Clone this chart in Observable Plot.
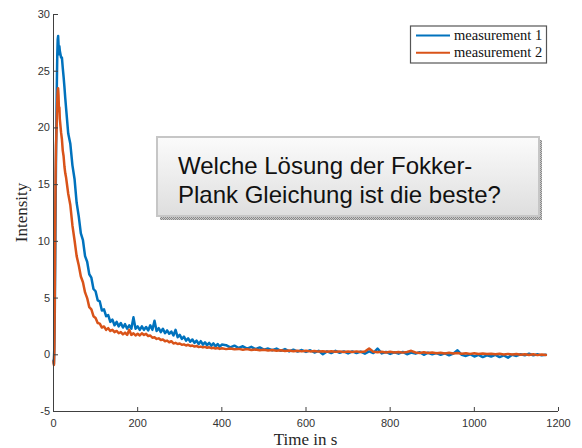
<!DOCTYPE html>
<html>
<head>
<meta charset="utf-8">
<script src="https://cdn.jsdelivr.net/npm/d3@7"></script>
<script src="https://cdn.jsdelivr.net/npm/@observablehq/plot@0.6"></script>
<style>
  html, body { margin: 0; padding: 0; background: #fff; }
  #chart { width: 582px; height: 448px; }
</style>
</head>
<body>
<div id="chart"></div>
<script>
const seriesNames = ["measurement 1", "measurement 2"];
const seriesColors = ["#0072BD", "#D95319"];
const xTicks = [0, 200, 400, 600, 800, 1000, 1200];
const yTicks = [-5, 0, 5, 10, 15, 20, 25, 30];
const xLabel = "Time in s";
const yLabel = "Intensity";
const boxText = ["Welche Lösung der Fokker-", "Plank Gleichung ist die beste?"];

const time = [0,1,2,3,4,5,6,7,8,9,10,11,12,13,14,15,16,18,20,22,24,26,28,
  30,35,40,45,50,55,60,65,70,75,80,85,90,95,100,105,110,115,120,125,130,135,140,145,150,155,160,165,170,175,
  180,185,190,195,200,205,210,215,220,225,230,235,240,245,250,255,260,265,270,275,280,285,290,295,300,305,
  310,315,320,325,330,335,340,345,350,355,360,365,370,375,380,385,390,395,400,
  410,420,430,440,450,460,470,480,490,500,510,520,530,540,550,560,570,580,590,600,
  610,620,630,640,650,660,670,680,690,700,710,720,730,740,750,760,770,780,790,800,
  810,820,830,840,850,860,870,880,890,900,910,920,930,940,950,960,970,980,990,1000,
  1010,1020,1030,1040,1050,1060,1070,1080,1090,1100,1110,1120,1130,1140,1150,1160,1170];

const measurement1 = [-0.5,-0.8,0.8,3.5,8,13,17.5,21,24,26.5,27.8,28.1,27.3,26.5,27.2,26.8,26.6,26.2,26.2,25.3,24.5,23.6,22.6,
  21.7,19.5,18.6,16.7,15.5,13.4,12.2,10.7,10.1,8.7,
  8.2,7.1,6.8,5.8,5.6,4.8,4.7,3.9,4.0,3.4,
  3.5,2.9,3.1,2.6,2.9,2.5,2.8,2.4,2.7,2.3,
  2.6,2.3,3.3,2.3,2.5,2.2,2.5,2.2,2.45,2.15,
  2.6,2.2,3.0,2.1,2.35,2.0,2.3,1.9,2.15,1.85,
  2.05,1.7,2.2,1.55,1.75,1.4,1.6,1.25,1.45,1.15,
  1.35,1.05,1.25,0.95,1.2,0.9,1.1,0.85,1.05,0.8,
  1.0,0.75,0.95,0.72,0.9,
  0.85,0.65,0.8,0.6,0.75,0.55,0.7,0.5,0.65,0.45,
  0.55,0.4,0.55,0.35,0.5,0.3,0.45,0.28,0.42,0.25,
  0.4,0.2,0.35,0.05,0.3,0.15,0.35,0.18,0.3,0.12,
  0.3,0.15,0.28,0.1,0.3,0.15,0.55,0.12,0.25,0.08,
  0.22,0.1,0.25,0.05,0.2,0.1,0.22,0.0,0.18,0.05,
  0.15,0.0,0.12,-0.05,0.1,0.4,0.0,-0.1,0.05,-0.15,
  0.0,-0.2,-0.05,-0.15,0.0,-0.2,-0.05,-0.25,0.0,-0.1,
  0.05,-0.05,0.1,-0.05,0.05,-0.05,0.0];

const measurement2 = [-0.6,-0.9,0.5,5,11,16,18.5,19.5,21,22.5,23.3,23.5,22.8,21.5,21.8,20.8,20.4,19.6,19.0,18.0,17.5,16.6,16.0,
  15.6,14.2,13.2,11.4,10.1,8.7,7.9,6.9,6.4,5.5,
  5.0,4.2,4.0,3.4,3.25,2.8,2.75,2.4,2.5,2.2,
  2.35,2.1,2.2,2.0,2.1,1.9,2.0,1.8,1.95,1.75,
  2.2,1.75,1.9,1.7,1.85,1.7,1.9,1.75,1.85,1.65,
  1.7,1.5,1.55,1.4,1.45,1.3,1.35,1.2,1.25,1.1,
  1.2,1.0,1.05,0.95,1.0,0.88,0.92,0.82,0.88,0.78,
  0.82,0.72,0.78,0.68,0.72,0.65,0.7,0.62,0.66,0.58,
  0.62,0.55,0.6,0.52,0.57,
  0.5,0.55,0.48,0.52,0.45,0.5,0.42,0.47,0.4,0.45,
  0.38,0.42,0.36,0.4,0.34,0.38,0.32,0.36,0.3,0.35,
  0.3,0.34,0.28,0.32,0.27,0.31,0.26,0.3,0.25,0.29,
  0.25,0.3,0.24,0.28,0.55,0.26,0.22,0.27,0.21,0.26,
  0.2,0.24,0.19,0.25,0.35,0.2,0.16,0.22,0.15,0.2,
  0.14,0.18,0.12,0.17,0.11,0.16,0.1,0.14,0.08,0.13,
  0.07,0.12,0.06,0.1,0.05,0.09,0.03,0.08,0.02,0.07,
  0.0,0.05,-0.02,0.04,-0.03,0.02,-0.02];

const data1 = time.map((t, i) => ({t, v: measurement1[i]}));
const data2 = time.map((t, i) => ({t, v: measurement2[i]}));

const axisColor = "#404040";
const fmt = d => String(d);
const svg = Plot.plot({
  width: 582,
  height: 448,
  marginLeft: 53,
  marginRight: 24,
  marginTop: 14,
  marginBottom: 37,
  style: {fontFamily: "'Liberation Sans', Arial, sans-serif", fontSize: "11px", color: "#333", background: "#fff", overflow: "visible"},
  x: {domain: [0, 1200], label: null},
  y: {domain: [-5, 30], label: null},
  marks: [
    Plot.line(data1, {x: "t", y: "v", stroke: seriesColors[0], strokeWidth: 2.5}),
    Plot.line(data2, {x: "t", y: "v", stroke: seriesColors[1], strokeWidth: 2.5}),
    Plot.ruleY([-5], {stroke: axisColor}),
    Plot.ruleX([0], {stroke: axisColor}),
    Plot.axisX(xTicks, {tickSize: -4, tickPadding: 12, stroke: axisColor, fill: "#333", label: null, tickFormat: fmt}),
    Plot.axisY(yTicks, {tickSize: -5, tickPadding: 8.5, stroke: axisColor, fill: "#333", label: null, tickFormat: fmt})
  ]
});
document.getElementById("chart").appendChild(svg);

const s = d3.select(svg);
const serif = "'Liberation Serif', 'Times New Roman', serif";
// axis titles
s.append("text").attr("x", 305.5).attr("y", 445).attr("text-anchor", "middle")
  .attr("font-family", serif).attr("font-size", 17).attr("fill", "#262626").text(xLabel);
s.append("text").attr("transform", "translate(26.5,212.5) rotate(-90)").attr("text-anchor", "middle")
  .attr("font-family", serif).attr("font-size", 17).attr("fill", "#262626").text(yLabel);

// legend
const lg = s.append("g");
lg.append("rect").attr("x", 410.5).attr("y", 26).attr("width", 136).attr("height", 37)
  .attr("fill", "#fff").attr("stroke", "#555").attr("stroke-width", 1.2);
seriesNames.forEach((name, i) => {
  const cy = 35.5 + i * 17.3;
  lg.append("line").attr("x1", 416).attr("x2", 450).attr("y1", cy).attr("y2", cy)
    .attr("stroke", seriesColors[i]).attr("stroke-width", 2);
  lg.append("text").attr("x", 454).attr("y", cy + 4).attr("text-anchor", "start").attr("font-family", serif)
    .attr("font-size", 14.5).attr("fill", "#111").text(name);
});

// annotation box
const defs = s.append("defs");
const grad = defs.append("linearGradient").attr("id", "boxgrad").attr("x1", 0).attr("y1", 0).attr("x2", 0).attr("y2", 1);
grad.append("stop").attr("offset", "0%").attr("stop-color", "#fbfbfb");
grad.append("stop").attr("offset", "100%").attr("stop-color", "#dedede");
const pat = defs.append("pattern").attr("id", "hatch").attr("width", 2).attr("height", 2).attr("patternUnits", "userSpaceOnUse");
pat.append("rect").attr("width", 2).attr("height", 2).attr("fill", "#c8c8c8");
pat.append("rect").attr("width", 1).attr("height", 1).attr("fill", "#8a8a8a");
pat.append("rect").attr("x", 1).attr("y", 1).attr("width", 1).attr("height", 1).attr("fill", "#8a8a8a");
const bx = s.append("g");
bx.append("rect").attr("x", 160).attr("y", 216).attr("width", 382).attr("height", 4).attr("fill", "url(#hatch)");
bx.append("rect").attr("x", 538.5).attr("y", 140).attr("width", 3.5).attr("height", 80).attr("fill", "url(#hatch)");
bx.append("rect").attr("x", 157).attr("y", 137).attr("width", 382).attr("height", 79)
  .attr("fill", "url(#boxgrad)").attr("stroke", "#c6c6c6").attr("stroke-width", 2);
boxText.forEach((line, i) => {
  bx.append("text").attr("x", 178).attr("y", 174 + i * 29.3).attr("text-anchor", "start")
    .attr("font-family", "'Liberation Sans', Arial, sans-serif").attr("font-size", 24).attr("fill", "#111").text(line);
});
</script>
</body>
</html>
